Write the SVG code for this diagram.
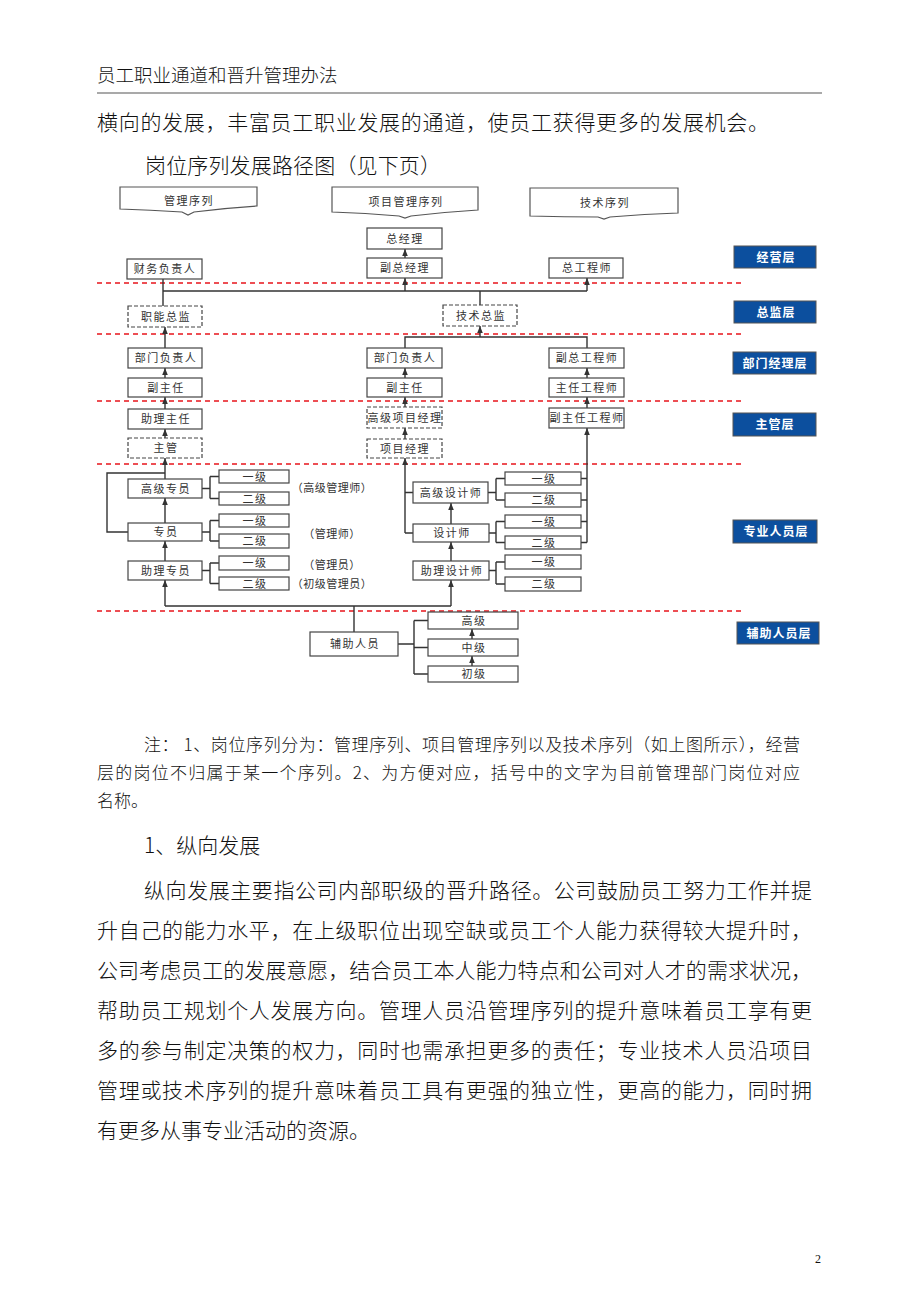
<svg xmlns="http://www.w3.org/2000/svg" width="920" height="1302" viewBox="0 0 920 1302">
<defs>
<style>
.n{fill:#fff;stroke:#444;stroke-width:1.2}
.d{fill:#fff;stroke:#444;stroke-width:1.2;stroke-dasharray:4 2}
.t{font-family:"Noto Sans CJK SC",sans-serif;font-size:11px;fill:#333;text-anchor:middle;letter-spacing:1.5px}
.c{stroke:#333;stroke-width:1.4;fill:none}
.r{stroke:#e8141b;stroke-width:1.3;stroke-dasharray:5 4;fill:none}
.b{fill:#0c4f9e;stroke:#555;stroke-width:1}
.bt{font-family:"Noto Sans CJK SC",sans-serif;font-size:12px;font-weight:bold;fill:#fff;text-anchor:middle;letter-spacing:1px}
.p{font-family:"Noto Sans CJK SC",sans-serif;font-size:21px;font-weight:300;fill:#111}
.s{font-family:"Noto Sans CJK SC",sans-serif;font-size:17px;font-weight:300;fill:#111}
.h{fill:#fff;stroke:#555;stroke-width:1.2}
</style>
<marker id="a" viewBox="0 0 10 10" refX="10" refY="5" markerWidth="7" markerHeight="7" markerUnits="userSpaceOnUse" orient="auto"><path d="M0,1 L10,5 L0,9 z" fill="#333"/></marker>
</defs>
<rect width="920" height="1302" fill="#fff"/>

<g id="page-text">
<text x="97" y="82" font-family="Noto Sans CJK SC, sans-serif" font-size="18.5" font-weight="300" fill="#111">员工职业通道和晋升管理办法</text>
<line x1="97" y1="93" x2="822" y2="93" stroke="#555" stroke-width="1.2"/>
<text class="p" x="97" y="130" textLength="672" lengthAdjust="spacing">横向的发展，丰富员工职业发展的通道，使员工获得更多的发展机会。</text>
<text class="p" x="145" y="173" textLength="296" lengthAdjust="spacing">岗位序列发展路径图（见下页）</text>
<text class="s" x="144" y="751" textLength="656" lengthAdjust="spacing">注： 1、岗位序列分为：管理序列、项目管理序列以及技术序列（如上图所示），经营</text>
<text class="s" x="97" y="779" textLength="703" lengthAdjust="spacing">层的岗位不归属于某一个序列。2、为方便对应，括号中的文字为目前管理部门岗位对应</text>
<text class="s" x="97" y="807">名称。</text>
<text class="p" x="144" y="853">1、纵向发展</text>
<text class="p" x="144" y="898" textLength="668" lengthAdjust="spacing">纵向发展主要指公司内部职级的晋升路径。公司鼓励员工努力工作并提</text>
<text class="p" x="97" y="938" textLength="715" lengthAdjust="spacing">升自己的能力水平，在上级职位出现空缺或员工个人能力获得较大提升时，</text>
<text class="p" x="97" y="978" textLength="715" lengthAdjust="spacing">公司考虑员工的发展意愿，结合员工本人能力特点和公司对人才的需求状况，</text>
<text class="p" x="97" y="1018" textLength="715" lengthAdjust="spacing">帮助员工规划个人发展方向。管理人员沿管理序列的提升意味着员工享有更</text>
<text class="p" x="97" y="1058" textLength="715" lengthAdjust="spacing">多的参与制定决策的权力，同时也需承担更多的责任；专业技术人员沿项目</text>
<text class="p" x="97" y="1098" textLength="715" lengthAdjust="spacing">管理或技术序列的提升意味着员工具有更强的独立性，更高的能力，同时拥</text>
<text class="p" x="97" y="1138">有更多从事专业活动的资源。</text>
<text x="815" y="1263" font-family="Liberation Serif, serif" font-size="12" fill="#111">2</text>
</g>

<g id="layer-lines">
<line class="r" x1="97" y1="283" x2="743" y2="283"/>
<line class="r" x1="97" y1="334" x2="743" y2="334"/>
<line class="r" x1="97" y1="401" x2="743" y2="401"/>
<line class="r" x1="97" y1="464" x2="743" y2="464"/>
<line class="r" x1="97" y1="611" x2="743" y2="611"/>
</g>

<g id="connectors">
<path class="c" d="M405,258 V249" marker-end="url(#a)"/>
<path class="c" d="M163,279 V306 M163,291 H587 M480,291 V305"/>
<path class="c" d="M405,291 V278" marker-end="url(#a)"/>
<path class="c" d="M587,291 V278" marker-end="url(#a)"/>
<path class="c" d="M165,348 V327" marker-end="url(#a)"/>
<path class="c" d="M480,337 V326" marker-end="url(#a)"/>
<path class="c" d="M405,348 V337 H587 V348"/>
<path class="c" d="M165,378 V368" marker-end="url(#a)"/>
<path class="c" d="M165,409 V397" marker-end="url(#a)"/>
<path class="c" d="M165,438 V429" marker-end="url(#a)"/>
<path class="c" d="M165,479 V458" marker-end="url(#a)"/>
<path class="c" d="M165,523 V498" marker-end="url(#a)"/>
<path class="c" d="M165,561 V541" marker-end="url(#a)"/>
<path class="c" d="M165,606 V580" marker-end="url(#a)"/>
<path class="c" d="M165,473 H107 V532 H128"/>
<path class="c" d="M165,606 H451 M354,606 V632"/>
<path class="c" d="M451,606 V580" marker-end="url(#a)"/>
<path class="c" d="M405,378 V368" marker-end="url(#a)"/>
<path class="c" d="M405,407 V397" marker-end="url(#a)"/>
<path class="c" d="M405,439 V428" marker-end="url(#a)"/>
<path class="c" d="M405,533 V458" marker-end="url(#a)"/>
<path class="c" d="M405,492.5 H413 M405,533 H413"/>
<path class="c" d="M587,378 V368" marker-end="url(#a)"/>
<path class="c" d="M587,408 V397" marker-end="url(#a)"/>
<path class="c" d="M587,542.5 V428" stroke-width="2" marker-end="url(#a)"/>
<path class="c" d="M581,478.5 H587 M581,500 H587 M581,521.5 H587 M581,542.5 H587"/>
<path class="c" d="M451,524 V503" marker-end="url(#a)"/>
<path class="c" d="M451,561 V542" marker-end="url(#a)"/>
<path class="c" d="M202,488.5 H210 M210,476.5 V498.5 M210,476.5 H219 M210,498.5 H219"/>
<path class="c" d="M202,532 H210 M210,520.5 V541 M210,520.5 H219 M210,541 H219"/>
<path class="c" d="M202,570.5 H210 M210,563 V583.5 M210,563 H219 M210,583.5 H219"/>
<path class="c" d="M488,492.5 H496 M496,478.5 V500 M496,478.5 H505 M496,500 H505"/>
<path class="c" d="M489,533 H496 M496,521.5 V542.5 M496,521.5 H505 M496,542.5 H505"/>
<path class="c" d="M489,570.5 H496 M496,562 V584 M496,562 H505 M496,584 H505"/>
<path class="c" d="M398,644 H414 M414,620.5 V674 M414,620.5 H428 M414,647.5 H428 M414,674 H428"/>
<path class="c" d="M472,639 V629" marker-end="url(#a)"/>
<path class="c" d="M472,666 V656" marker-end="url(#a)"/>
</g>

<g id="hdr-mgmt"><path class="h" d="M120,187 H257 V206 Q225,208 194,212 L188,215 L182,212 Q150,210 120,209 Z"/><text class="t" x="189" y="205">管理序列</text></g>
<g id="hdr-proj"><path class="h" d="M332,187 H478 V210 Q445,212 411,216 L405,218 L399,216 Q365,213 332,212 Z"/><text class="t" x="406" y="206">项目管理序列</text></g>
<g id="hdr-tech"><path class="h" d="M530,188 H678 V213 Q645,214 610,217 L604,219 L598,217 Q565,217 530,216 Z"/><text class="t" x="605" y="207">技术序列</text></g>

<g id="n-zjl"><rect class="n" x="367" y="228" width="75" height="21"/><text class="t" x="405" y="242.5">总经理</text></g>
<g id="n-fzjl"><rect class="n" x="367" y="258" width="75" height="20"/><text class="t" x="405" y="272">副总经理</text></g>
<g id="n-cwfzr"><rect class="n" x="127" y="259" width="75" height="20"/><text class="t" x="165" y="273">财务负责人</text></g>
<g id="n-zgcs"><rect class="n" x="549" y="258" width="74" height="20"/><text class="t" x="587" y="272">总工程师</text></g>
<g id="n-znzj"><rect class="d" x="128" y="306" width="74" height="21"/><text class="t" x="166" y="320.5">职能总监</text></g>
<g id="n-jszj"><rect class="d" x="443" y="305" width="74" height="21"/><text class="t" x="481" y="319.5">技术总监</text></g>

<g id="n-bmfzr1"><rect class="n" x="128" y="348" width="74" height="20"/><text class="t" x="166" y="362">部门负责人</text></g>
<g id="n-fzr1"><rect class="n" x="128" y="378" width="74" height="19"/><text class="t" x="166" y="391.5">副主任</text></g>
<g id="n-zlzr"><rect class="n" x="128" y="409" width="74" height="20"/><text class="t" x="166" y="423">助理主任</text></g>
<g id="n-zg"><rect class="d" x="128" y="438" width="74" height="20"/><text class="t" x="166" y="452">主管</text></g>

<g id="n-bmfzr2"><rect class="n" x="367" y="348" width="75" height="20"/><text class="t" x="405" y="362">部门负责人</text></g>
<g id="n-fzr2"><rect class="n" x="367" y="378" width="75" height="19"/><text class="t" x="405" y="391.5">副主任</text></g>
<g id="n-gjxmjl"><rect class="d" x="367" y="407" width="75" height="21"/><text class="t" x="405" y="421.5">高级项目经理</text></g>
<g id="n-xmjl"><rect class="d" x="367" y="439" width="75" height="19"/><text class="t" x="405" y="452.5">项目经理</text></g>

<g id="n-fzgcs"><rect class="n" x="549" y="348" width="75" height="20"/><text class="t" x="587" y="362">副总工程师</text></g>
<g id="n-zrgcs"><rect class="n" x="549" y="378" width="75" height="19"/><text class="t" x="587" y="391.5">主任工程师</text></g>
<g id="n-fzrgcs"><rect class="n" x="549" y="408" width="75" height="20"/><text class="t" x="587" y="422">副主任工程师</text></g>

<g id="n-gjzy"><rect class="n" x="128" y="479" width="74" height="19"/><text class="t" x="166" y="492.5">高级专员</text></g>
<g id="n-zy"><rect class="n" x="128" y="523" width="74" height="18"/><text class="t" x="166" y="536">专员</text></g>
<g id="n-zlzy"><rect class="n" x="128" y="561" width="74" height="19"/><text class="t" x="166" y="574.5">助理专员</text></g>

<g id="m-l1"><rect class="n" x="219" y="470" width="70" height="13"/><text class="t" x="255" y="480.5">一级</text></g>
<g id="m-l2"><rect class="n" x="219" y="492" width="70" height="13"/><text class="t" x="255" y="502.5">二级</text></g>
<g id="m-l3"><rect class="n" x="219" y="514" width="70" height="13"/><text class="t" x="255" y="524.5">一级</text></g>
<g id="m-l4"><rect class="n" x="219" y="534" width="70" height="14"/><text class="t" x="255" y="545">二级</text></g>
<g id="m-l5"><rect class="n" x="219" y="556" width="70" height="14"/><text class="t" x="255" y="567">一级</text></g>
<g id="m-l6"><rect class="n" x="219" y="577" width="70" height="13"/><text class="t" x="255" y="587.5">二级</text></g>

<g id="labels">
<text class="t" x="332" y="492" style="letter-spacing:0.5px">（高级管理师）</text>
<text class="t" x="332" y="538" style="letter-spacing:0.5px">（管理师）</text>
<text class="t" x="332" y="569" style="letter-spacing:0.5px">（管理员）</text>
<text class="t" x="332" y="588" style="letter-spacing:0.5px">（初级管理员）</text>
</g>

<g id="n-gjsjs"><rect class="n" x="413" y="482" width="75" height="21"/><text class="t" x="451" y="496.5">高级设计师</text></g>
<g id="n-sjs"><rect class="n" x="413" y="524" width="76" height="18"/><text class="t" x="452" y="537">设计师</text></g>
<g id="n-zlsjs"><rect class="n" x="413" y="561" width="76" height="19"/><text class="t" x="452" y="574.5">助理设计师</text></g>

<g id="d-l1"><rect class="n" x="505" y="472" width="76" height="13"/><text class="t" x="544" y="482.5">一级</text></g>
<g id="d-l2"><rect class="n" x="505" y="493" width="76" height="14"/><text class="t" x="544" y="504">二级</text></g>
<g id="d-l3"><rect class="n" x="505" y="515" width="76" height="13"/><text class="t" x="544" y="525.5">一级</text></g>
<g id="d-l4"><rect class="n" x="505" y="536" width="76" height="13"/><text class="t" x="544" y="546.5">二级</text></g>
<g id="d-l5"><rect class="n" x="505" y="555" width="76" height="14"/><text class="t" x="544" y="566">一级</text></g>
<g id="d-l6"><rect class="n" x="505" y="577" width="76" height="14"/><text class="t" x="544" y="588">二级</text></g>

<g id="n-fzry"><rect class="n" x="310" y="632" width="88" height="24"/><text class="t" x="355" y="648">辅助人员</text></g>
<g id="a-gj"><rect class="n" x="428" y="612" width="90" height="17"/><text class="t" x="474" y="624.5">高级</text></g>
<g id="a-zj"><rect class="n" x="428" y="639" width="90" height="17"/><text class="t" x="474" y="651.5">中级</text></g>
<g id="a-cj"><rect class="n" x="428" y="666" width="90" height="16"/><text class="t" x="474" y="678">初级</text></g>

<g id="lv-jy"><rect class="b" x="734" y="246" width="82" height="22"/><text class="bt" x="776" y="261.5">经营层</text></g>
<g id="lv-zj"><rect class="b" x="734" y="301" width="82" height="22"/><text class="bt" x="776" y="316.5">总监层</text></g>
<g id="lv-bm"><rect class="b" x="733" y="352" width="83" height="22"/><text class="bt" x="775" y="367.5">部门经理层</text></g>
<g id="lv-zg"><rect class="b" x="733" y="413" width="83" height="23"/><text class="bt" x="775" y="429">主管层</text></g>
<g id="lv-zy"><rect class="b" x="733" y="520" width="84" height="23"/><text class="bt" x="776" y="536">专业人员层</text></g>
<g id="lv-fz"><rect class="b" x="737" y="622" width="82" height="22"/><text class="bt" x="779" y="637.5">辅助人员层</text></g>
</svg>
